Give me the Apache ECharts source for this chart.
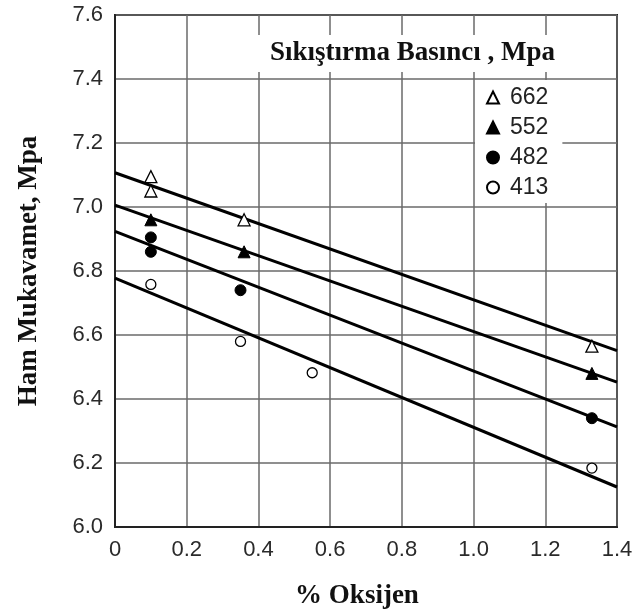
<!DOCTYPE html>
<html>
<head>
<meta charset="utf-8">
<script src="https://cdn.jsdelivr.net/npm/echarts@6/dist/echarts.min.js"></script>
<style>
  html, body { margin: 0; padding: 0; background: #fff; }
  #chart { width: 638px; height: 615px; }
</style>
</head>
<body>
<div id="chart"></div>
<script>
// measured points, [% oxygen, strength]
var p662 = [[0.1, 7.095], [0.1, 7.05], [0.36, 6.96], [1.33, 6.565]];
var p552 = [[0.1, 6.96], [0.36, 6.86], [1.33, 6.48]];
var p482 = [[0.1, 6.905], [0.1, 6.86], [0.35, 6.74], [1.33, 6.34]];
var p413 = [[0.1, 6.758], [0.35, 6.58], [0.55, 6.482], [1.33, 6.184]];

// fitted lines, value at x = 0 and x = 1.4
var fitX = [0, 1.4];
var fit662 = [7.107, 6.551];
var fit552 = [7.006, 6.453];
var fit482 = [6.924, 6.313];
var fit413 = [6.778, 6.125];

var serifFont = '"Liberation Serif", "Times New Roman", serif';
var sansFont = '"Liberation Sans", Arial, sans-serif';

function fitLine(name, ys) {
    return {
        name: name,
        type: 'line',
        data: fitX.map(function(x, i) { return [x, ys[i]]; }),
        symbol: 'none',
        silent: true,
        z: 3,
        lineStyle: { color: '#000', width: 3 }
    };
}

function points(name, data, symbol, size, filled) {
    return {
        name: name,
        type: 'scatter',
        data: data,
        symbol: symbol,
        symbolSize: size,
        z: 5,
        itemStyle: filled ?
            { color: '#000', borderColor: '#000', borderWidth: 1, opacity: 1 } :
            { color: '#fff', borderColor: '#000', borderWidth: 1.3, opacity: 1 }
    };
}

var myChart = echarts.init(document.getElementById('chart'));
myChart.setOption({
    animation: false,
    backgroundColor: '#fff',
    title: {
        text: 'Sıkıştırma Basıncı , Mpa',
        left: 245,
        top: 35,
        padding: [5, 50, 5, 25],
        backgroundColor: '#fff',
        textStyle: { fontFamily: serifFont, fontWeight: 'bold', fontSize: 27, color: '#111' }
    },
    legend: {
        data: ['662', '552', '482', '413'],
        orient: 'vertical',
        left: 475,
        top: 80,
        padding: [6, 14, 4, 11],
        backgroundColor: '#fff',
        itemWidth: 12,
        itemHeight: 12,
        itemGap: 7,
        textStyle: { fontFamily: sansFont, fontSize: 23, color: '#222', padding: [0, 0, 0, 6] }
    },
    grid: {
        left: 115, right: 21, top: 15, bottom: 84,
        show: true, borderColor: '#222', borderWidth: 2
    },
    xAxis: {
        type: 'value',
        min: 0, max: 1.4, interval: 0.2,
        name: '% Oksijen',
        nameLocation: 'middle',
        nameGap: 56,
        nameTextStyle: { fontFamily: serifFont, fontWeight: 'bold', fontSize: 27, color: '#111', padding: [0, 18, 0, 0] },
        axisLine: { lineStyle: { color: '#222', width: 2 } },
        axisTick: { show: false },
        axisLabel: {
            margin: 12, fontFamily: sansFont, fontSize: 22, color: '#2a2a2a',
            formatter: function(v) { return v === 0 ? '0' : v.toFixed(1); }
        },
        splitLine: { lineStyle: { color: '#6a6a6a', width: 1.5 } }
    },
    yAxis: {
        type: 'value',
        min: 6, max: 7.6, interval: 0.2,
        name: 'Ham Mukavamet, Mpa',
        nameLocation: 'middle',
        nameGap: 72,
        nameTextStyle: { fontFamily: serifFont, fontWeight: 'bold', fontSize: 27, color: '#111' },
        axisLine: { show: true, lineStyle: { color: '#222', width: 2 } },
        axisTick: { show: false },
        axisLabel: {
            margin: 12, fontFamily: sansFont, fontSize: 22, color: '#2a2a2a',
            formatter: function(v) { return v.toFixed(1); }
        },
        splitLine: { lineStyle: { color: '#6a6a6a', width: 1.5 } }
    },
    series: [
        fitLine('fit662', fit662),
        fitLine('fit552', fit552),
        fitLine('fit482', fit482),
        fitLine('fit413', fit413),
        points('662', p662, 'triangle', 12, false),
        points('552', p552, 'triangle', 12, true),
        points('482', p482, 'circle', 11, true),
        points('413', p413, 'circle', 10, false)
    ]
});
</script>
</body>
</html>
